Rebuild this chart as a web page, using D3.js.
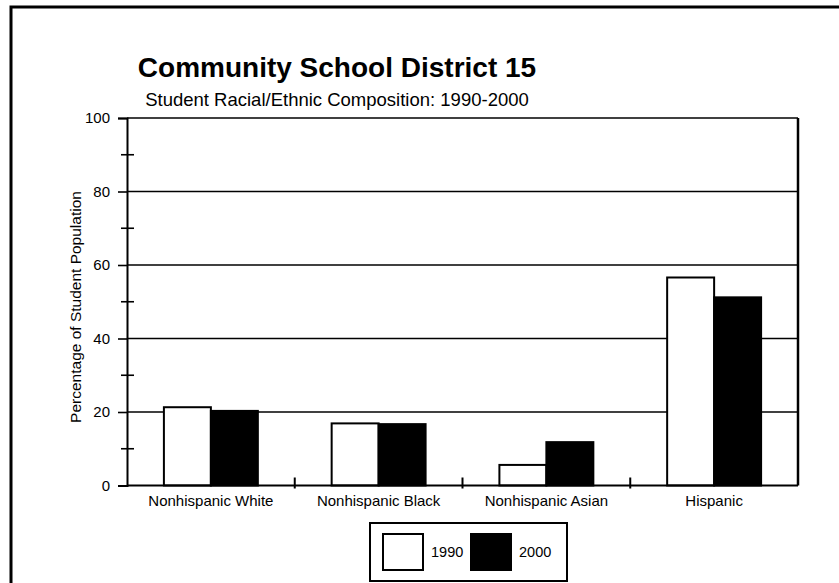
<!DOCTYPE html>
<html>
<head>
<meta charset="utf-8">
<script src="https://cdn.jsdelivr.net/npm/d3@7"></script>
<style>
  html, body { margin: 0; padding: 0; background: #fff; }
  svg { display: block; font-family: Arial, "Liberation Sans", sans-serif; }
</style>
</head>
<body>
<svg id="chart" width="839" height="583"></svg>
<script>
// Student racial/ethnic composition, percent of enrolment
const categories = ["Nonhispanic White", "Nonhispanic Black", "Nonhispanic Asian", "Hispanic"];
const seriesNames = ["1990", "2000"];
const values1990 = [21.3, 16.9, 5.6, 56.6];
const values2000 = [20.3, 16.7, 11.8, 51.2];
const majorTicks = [0, 20, 40, 60, 80, 100];
const minorTicks = [10, 30, 50, 70, 90];

const svg = d3.select("#chart");
const fills = { "1990": "#fff", "2000": "#000" };
const font = "Arial, 'Liberation Sans', sans-serif";

// outer frame
svg.append("rect")
  .attr("x", 11).attr("y", 7).attr("width", 860).attr("height", 620)
  .attr("fill", "none").attr("stroke", "#000").attr("stroke-width", 3);

// titles
svg.append("text").attr("x", 337).attr("y", 77)
  .attr("text-anchor", "middle").attr("font-size", 28).attr("font-weight", "bold")
  .text("Community School District 15");
svg.append("text").attr("x", 337).attr("y", 106)
  .attr("text-anchor", "middle").attr("font-size", 18.5)
  .text("Student Racial/Ethnic Composition: 1990-2000");

const plotLeft = 127, plotRight = 798, plotTop = 118, plotBottom = 485.5;

const x0 = d3.scaleBand().domain(categories).range([plotLeft, plotRight]).paddingInner(0).paddingOuter(0);
const x1 = d3.scaleBand().domain(seriesNames).range([0, x0.bandwidth() * 0.56]);
const groupOffset = x0.bandwidth() * 0.22;
const y = d3.scaleLinear().domain([0, 100]).range([plotBottom, plotTop]);

// horizontal grid lines
svg.append("g").selectAll("line").data(majorTicks.filter(d => d > 0)).join("line")
  .attr("x1", plotLeft).attr("x2", plotRight)
  .attr("y1", d => y(d)).attr("y2", d => y(d))
  .attr("stroke", "#000").attr("stroke-width", 1.6);

// right frame of the plot
svg.append("line").attr("x1", plotRight).attr("x2", plotRight)
  .attr("y1", plotTop).attr("y2", plotBottom)
  .attr("stroke", "#000").attr("stroke-width", 2.5);

// bars
const table = categories.map((c, i) => ({ category: c, "1990": values1990[i], "2000": values2000[i] }));
const groups = svg.append("g").selectAll("g").data(table).join("g")
  .attr("transform", d => `translate(${x0(d.category) + groupOffset},0)`);
groups.selectAll("rect").data(d => seriesNames.map(s => ({ s, v: d[s] }))).join("rect")
  .attr("x", d => x1(d.s))
  .attr("y", d => y(d.v))
  .attr("width", x1.bandwidth())
  .attr("height", d => y(0) - y(d.v))
  .attr("fill", d => fills[d.s])
  .attr("stroke", "#000").attr("stroke-width", 2);

// y axis
const yAxis = d3.axisLeft(y).tickValues(majorTicks).tickSize(9).tickPadding(8).tickFormat(d3.format("d"));
const gy = svg.append("g").attr("transform", `translate(${plotLeft},0)`).call(yAxis);
gy.select(".domain").attr("stroke-width", 2);
gy.selectAll(".tick line").attr("stroke-width", 1.6);
gy.selectAll(".tick text").attr("font-size", 15).attr("fill", "#000").attr("font-family", font);
// minor ticks crossing the axis
svg.append("g").selectAll("line").data(minorTicks).join("line")
  .attr("x1", plotLeft - 6).attr("x2", plotLeft + 7)
  .attr("y1", d => y(d)).attr("y2", d => y(d))
  .attr("stroke", "#000").attr("stroke-width", 1.6);

// x axis
svg.append("line").attr("x1", plotLeft).attr("x2", plotRight)
  .attr("y1", plotBottom).attr("y2", plotBottom)
  .attr("stroke", "#000").attr("stroke-width", 2);
const xAxis = d3.axisBottom(x0).tickSize(0).tickPadding(10);
const gx = svg.append("g").attr("transform", `translate(0,${plotBottom})`).call(xAxis);
gx.select(".domain").remove();
gx.selectAll(".tick text").attr("font-size", 15).attr("fill", "#000").attr("font-family", font);
// category separators
svg.append("g").selectAll("line").data(categories.slice(1)).join("line")
  .attr("x1", d => x0(d)).attr("x2", d => x0(d))
  .attr("y1", plotBottom - 8).attr("y2", plotBottom + 3)
  .attr("stroke", "#000").attr("stroke-width", 2);

// y axis title
svg.append("text")
  .attr("transform", `translate(81,307) rotate(-90)`)
  .attr("text-anchor", "middle").attr("font-size", 15.5)
  .text("Percentage of Student Population");

// legend
const lg = svg.append("g").attr("transform", "translate(370,523)");
lg.append("rect").attr("width", 197).attr("height", 58)
  .attr("fill", "#fff").attr("stroke", "#000").attr("stroke-width", 2);
const legendX = { "1990": 13, "2000": 101 };
seriesNames.forEach(s => {
  lg.append("rect").attr("x", legendX[s]).attr("y", 11).attr("width", 40).attr("height", 36)
    .attr("fill", fills[s]).attr("stroke", "#000").attr("stroke-width", 2);
  lg.append("text").attr("x", legendX[s] + 48).attr("y", 34).attr("font-size", 14.5).text(s);
});
</script>
</body>
</html>
